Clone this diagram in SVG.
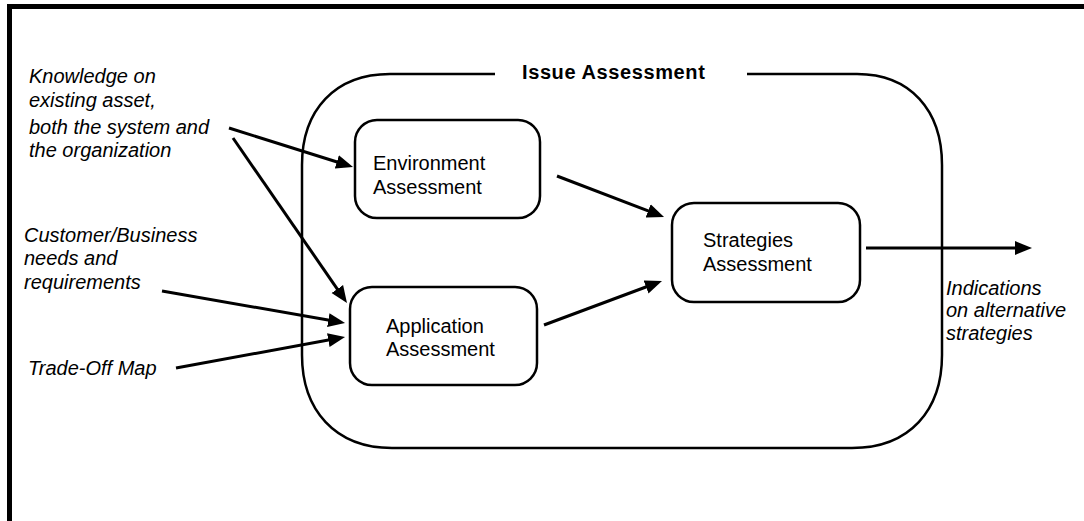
<svg xmlns="http://www.w3.org/2000/svg" width="1084" height="521" viewBox="0 0 1084 521">
  <style>
    .frame { stroke: #000; stroke-width: 5; fill: none; }
    .box { fill: #fff; stroke: #000; stroke-width: 2.5; }
    .outer { fill: none; stroke: #000; stroke-width: 2.5; }
    .conn { stroke: #000; stroke-width: 3; fill: none; marker-end: url(#arrow); }
    .lbl { font-family: "Liberation Sans", Arial, sans-serif; font-size: 20px; fill: #000; }
    .it { font-family: "Liberation Sans", Arial, sans-serif; font-size: 20px; font-style: italic; fill: #000; }
    .title { font-family: "Liberation Sans", Arial, sans-serif; font-size: 20px; font-weight: bold; letter-spacing: 0.6px; fill: #000; }
  </style>
  <defs>
    <marker id="arrow" markerUnits="userSpaceOnUse" markerWidth="18" markerHeight="15" refX="7" refY="7" orient="auto" viewBox="0 0 18 14">
      <path d="M0,0 L17,7 L0,14 z" fill="#000"/>
    </marker>
  </defs>
  <rect width="1084" height="521" fill="#fff"/>

  <g id="frame">
    <line class="frame" x1="7" y1="6.5" x2="1084" y2="6.5"/>
    <line class="frame" x1="9.5" y1="4" x2="9.5" y2="521"/>
  </g>

  <g id="issue-assessment">
    <path class="outer" d="M495,74 L390,74 C335,74 302,110 302,165 L302,355 C302,410 335,448 392,448 L852,448 C910,448 942,410 942,355 L942,165 C942,110 910,74 857,74 L747,74"/>
    <text class="title" x="522" y="79">Issue Assessment</text>
  </g>

  <g id="environment-assessment">
    <rect class="box" x="355" y="120" width="185" height="98" rx="22" ry="22"/>
    <text class="lbl" x="373" y="170">Environment</text>
    <text class="lbl" x="373" y="194">Assessment</text>
  </g>

  <g id="application-assessment">
    <rect class="box" x="350" y="287" width="187" height="98" rx="22" ry="22"/>
    <text class="lbl" x="386" y="333">Application</text>
    <text class="lbl" x="386" y="356">Assessment</text>
  </g>

  <g id="strategies-assessment">
    <rect class="box" x="672" y="203" width="188" height="99" rx="22" ry="22"/>
    <text class="lbl" x="703" y="247">Strategies</text>
    <text class="lbl" x="703" y="271">Assessment</text>
  </g>

  <g id="input-knowledge">
    <text class="it" x="29" y="83">Knowledge on</text>
    <text class="it" x="29" y="107">existing asset,</text>
    <text class="it" x="29" y="134">both the system and</text>
    <text class="it" x="29" y="157">the organization</text>
  </g>

  <g id="input-customer">
    <text class="it" x="24" y="242">Customer/Business</text>
    <text class="it" x="24" y="265">needs and</text>
    <text class="it" x="24" y="289">requirements</text>
  </g>

  <g id="input-tradeoff">
    <text class="it" x="28" y="375">Trade-Off Map</text>
  </g>

  <g id="output-indications">
    <text class="it" x="946" y="295">Indications</text>
    <text class="it" x="946" y="317">on alternative</text>
    <text class="it" x="946" y="340">strategies</text>
  </g>

  <g id="connectors">
    <line class="conn" x1="229" y1="128" x2="343.5" y2="164"/>
    <line class="conn" x1="233" y1="138" x2="341.3" y2="294.8"/>
    <line class="conn" x1="162" y1="291" x2="335.2" y2="321.3"/>
    <line class="conn" x1="176" y1="368" x2="335.2" y2="338.8"/>
    <line class="conn" x1="557" y1="176" x2="654.7" y2="213.4"/>
    <line class="conn" x1="544" y1="325" x2="652.6" y2="284.5"/>
    <line class="conn" x1="866" y1="248" x2="1022" y2="248"/>
  </g>
</svg>
